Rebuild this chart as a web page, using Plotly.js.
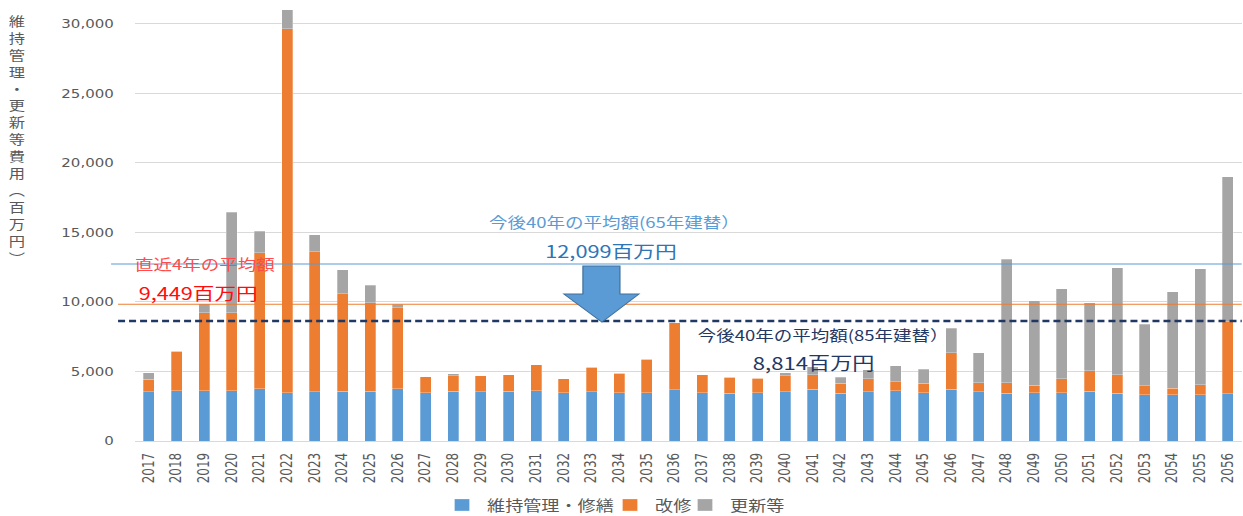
<!DOCTYPE html>
<html>
<head>
<meta charset="utf-8">
<script src="https://cdn.plot.ly/plotly-3.0.1.min.js"></script>
<style>
html,body{margin:0;padding:0;background:#fff;overflow:hidden}
#chart{width:994px;height:516px;transform:scaleX(1.2505);transform-origin:0 0}
</style>
</head>
<body>
<div id="chart"></div>
<script>
const years = ["2017","2018","2019","2020","2021","2022","2023","2024","2025","2026","2027","2028","2029","2030","2031","2032","2033","2034","2035","2036","2037","2038","2039","2040","2041","2042","2043","2044","2045","2046","2047","2048","2049","2050","2051","2052","2053","2054","2055","2056"];
const maintenance = [3550,3600,3600,3620,3760,3475,3525,3575,3575,3760,3475,3575,3525,3575,3620,3475,3525,3475,3475,3670,3475,3430,3475,3525,3720,3430,3550,3600,3475,3720,3550,3430,3475,3475,3575,3430,3330,3310,3310,3400];
const renovation = [890,2850,5610,5590,9790,26165,10075,7000,6375,5830,1150,1125,1175,1175,1870,1005,1775,1395,2405,4840,1275,1150,1035,1175,1050,720,930,670,675,2630,650,770,530,1005,1485,1340,650,480,740,5180];
const renewal = [475,0,650,7240,1540,1370,1240,1745,1250,240,0,120,0,0,0,0,0,0,0,0,0,0,0,215,575,430,630,1130,1005,1755,2150,8870,6090,6455,4890,7700,4415,6930,8325,10435];
const seriesNames = ["維持管理・修繕","改修","更新等"];
const yTitle = "維持管理・更新等費用︵百万円︶";
// reference line levels as drawn in the picture
const lineLevels = {recent: 9830, future65: 12730, future85: 8630};
const labels = {
  recentTitle: "直近4年の平均額", recentValue: "9,449百万円",
  f65Title: "今後40年の平均額(65年建替）", f65Value: "12,099百万円",
  f85Title: "今後40年の平均額(85年建替）", f85Value: "8,814百万円"
};

const S = 1243/994; // horizontal stretch of the reference
const FONT = "'Noto Sans CJK JP', 'Noto Sans', sans-serif";
const NUMFONT = "'DejaVu Sans', sans-serif";
const colors = ["#5B9BD5","#ED7D31","#A5A5A5"];
const legendIds = ['legend','legend2','legend3'];
const vals = [maintenance, renovation, renewal];
const data = vals.map((v,i)=>({
  type:'bar', x:years, y:v, name:seriesNames[i], legend:legendIds[i],
  marker:{color:colors[i], line:{color:'rgba(255,255,255,0.5)', width:0.5}},
  hoverinfo:'x+y+name'
}));

// plot area in reference pixels
const L=135, R=1242, T=3, B=441;
const W=R-L, H=B-T;
const px = x => (x-L)/W;
const py = y => (B-y)/H;

const shapes = [
  {type:'line', xref:'paper', yref:'y', x0:px(111), x1:1, y0:lineLevels.future65, y1:lineLevels.future65, line:{color:'#5B9BD5', width:1}},
  {type:'line', xref:'paper', yref:'y', x0:px(118), x1:1, y0:lineLevels.recent, y1:lineLevels.recent, line:{color:'#ED7D31', width:1}},
  {type:'line', xref:'paper', yref:'y', x0:px(118), x1:1, y0:lineLevels.future85, y1:lineLevels.future85, line:{color:'#1F3864', width:2.5, dash:'5.6px,3.2px'}},
];
const arrowPts = [[583,266],[620,266],[620,294],[639,294],[602,322],[564,294],[583,294]];
shapes.push({type:'path', xref:'paper', yref:'paper',
  path: 'M' + arrowPts.map(p=>px(p[0]).toFixed(5)+','+py(p[1]).toFixed(5)).join(' L') + ' Z',
  fillcolor:'#5B9BD5', line:{color:'#41719C', width:1}});

const ann = (x,y,text,size,color)=>({xref:'paper', yref:'paper', x:px(x), y:py(y), text, showarrow:false,
  xanchor:'left', yanchor:'middle', font:{family:FONT, size, color}});
const annotations = [
  ann(132,263,labels.recentTitle,14.8,'#FF4B4B'),
  ann(136,292,labels.recentValue,17.3,'#FF0D0D'),
  ann(486,221,labels.f65Title,14.8,'#5B9BD5'),
  ann(543,250,labels.f65Value,17.4,'#2E75B6'),
  ann(695,334,labels.f85Title,14.8,'#1F3864'),
  ann(750,362,labels.f85Value,17.7,'#1F3864'),
  {xref:'paper', yref:'paper', x:px(17), y:py(9), text:[...yTitle].join('<br>'), showarrow:false,
    xanchor:'center', yanchor:'top', align:'center', font:{family:FONT, size:13, color:'#595959'}}
];

// legend entries: text left edges (reference px)
const legendTextX = [487, 655, 730];
const legendBase = {orientation:'h', xref:'container', yref:'container', xanchor:'left', y:(516-505)/516, yanchor:'middle',
  font:{size:14.5, color:'#595959', family:FONT}, itemwidth:30, bgcolor:'rgba(0,0,0,0)'};

const layout = {
  width:994, height:516,
  margin:{l:L/S, r:(1243-R)/S, t:T, b:516-B, pad:0},
  barmode:'stack', bargap:0.6,
  paper_bgcolor:'#fff', plot_bgcolor:'#fff',
  font:{family:FONT, color:'#595959'},
  xaxis:{type:'category', tickangle:-90, tickfont:{size:12, color:'#595959', family:NUMFONT},
    showgrid:false, showline:true, linecolor:'#D9D9D9', linewidth:1, ticks:'', ticklabelstandoff:6},
  yaxis:{range:[0,31500], dtick:5000, tickformat:',d', gridcolor:'#D9D9D9', gridwidth:1,
    zeroline:false, showline:false, ticks:'', tickfont:{size:12, color:'#595959', family:NUMFONT}, ticklabelstandoff:16},
  showlegend:true,
  shapes, annotations
};
legendIds.forEach((id,i)=>{
  layout[id] = Object.assign({}, legendBase, {x: ((legendTextX[i]-50)/S)/994});
});
Plotly.newPlot('chart', data, layout, {displayModeBar:false, staticPlot:true});
</script>
</body>
</html>
